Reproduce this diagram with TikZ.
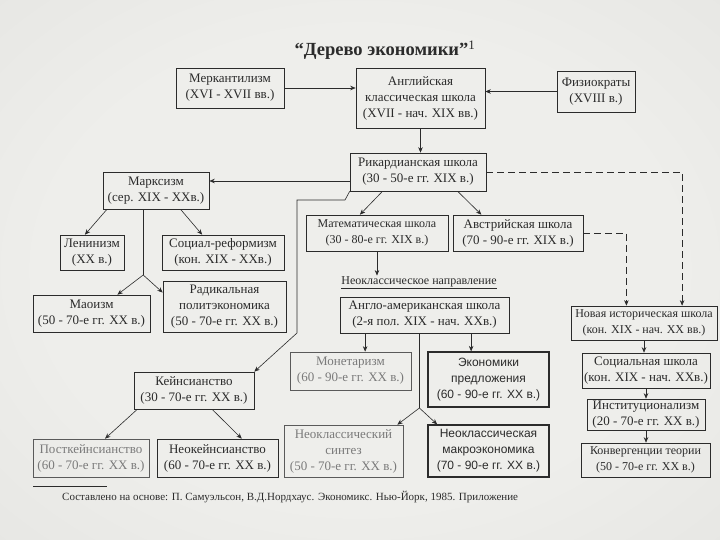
\documentclass[tikz,border=0pt]{standalone}
\usepackage{fontspec}
\setmainfont{Liberation Serif}
\setsansfont{Liberation Sans}
\usetikzlibrary{arrows.meta,calc}
\definecolor{ink}{HTML}{2B2B2B}
\definecolor{faded}{HTML}{7A7A7A}
\definecolor{pcenter}{HTML}{EEEEEB}
\definecolor{pmid}{HTML}{E0E0DD}
\definecolor{pedge}{HTML}{C6C6C3}
\pgfdeclareradialshading{paper}{\pgfpoint{0bp}{0bp}}{color(0bp)=(pcenter); color(22bp)=(pcenter); color(50bp)=(pmid); color(72bp)=(pedge)}
\newcommand{\boxfont}{\fontsize{13}{16}\selectfont}
\newcommand{\narrowboxfont}{\fontsize{12}{16}\selectfont}
\newcommand{\boldboxfont}{\sffamily\fontsize{12}{16}\selectfont}
\newcommand{\ttlfont}{\bfseries\fontsize{18.5}{20}\selectfont}
\newcommand{\footfont}{\fontsize{11}{12}\selectfont}
\begin{document}
\begin{tikzpicture}[x=1pt,y=-1pt,
  box/.style={draw=ink, line width=0.6pt, align=center, inner sep=0pt, text=ink, font=\boxfont},
  fbox/.style={box, draw=faded!60!ink, text=faded},
  bbox/.style={box, line width=1.2pt, font=\boldboxfont},
  arr/.style={draw=ink, line width=0.6pt, -{Stealth[length=5.5pt,width=4.5pt]}},
  darr/.style={arr, dash pattern=on 7pt off 4pt},
  plain/.style={draw=ink, line width=0.6pt}]
\shade[shading=paper] (0,0) rectangle (720,540);
\useasboundingbox (0,0) rectangle (720,540);

\node[font=\ttlfont, text=ink] (title) at (385,50) {“Дерево экономики”\textsuperscript{\normalfont 1}};

\node[box, minimum width=108, minimum height=40] (merc) at (230,88) {Меркантилизм\\(XVI - XVII вв.)};
\node[box, minimum width=129, minimum height=60] (engl) at (420.5,98) {Английская\\классическая школа\\(XVII - нач. XIX вв.)};
\node[box, minimum width=78, minimum height=41] (phys) at (596,91.5) {Физиократы\\(XVIII в.)};
\node[box, minimum width=136, minimum height=38] (rik) at (418,172) {Рикардианская школа\\(30 - 50-е гг. XIX в.)};
\node[box, minimum width=106, minimum height=37] (marx) at (156,190.5) {Марксизм\\(сер. XIX - XXв.)};
\node[box, minimum width=64, minimum height=35] (lenin) at (92,252.5) {Ленинизм\\(XX в.)};
\node[box, minimum width=122, minimum height=35] (socref) at (223,252.5) {Социал-реформизм\\(кон. XIX - XXв.)};
\node[box, minimum width=117, minimum height=37] (mao) at (91.5,313.5) {Маоизм\\(50 - 70-е гг. XX в.)};
\node[box, minimum width=123, minimum height=51] (radical) at (224.5,306.5) {Радикальная\\политэкономика\\(50 - 70-е гг. XX в.)};
\node[box, font=\narrowboxfont, minimum width=142, minimum height=36] (math) at (377,233) {Математическая школа\\(30 - 80-е гг. XIX в.)};
\node[box, minimum width=130, minimum height=36] (austr) at (518,233) {Австрийская школа\\(70 - 90-е гг. XIX в.)};
\node[font=\fontsize{12}{14}\selectfont, text=ink, inner sep=1pt] (nclab) at (419,283) {\underline{Неоклассическое направление}};
\node[box, minimum width=169, minimum height=36] (anglo) at (424.5,315) {Англо-американская школа\\(2-я пол. XIX - нач. XXв.)};
\node[box, font=\narrowboxfont, minimum width=146, minimum height=34] (newhist) at (644,323) {Новая историческая школа\\(кон. XIX - нач. XX вв.)};
\node[box, minimum width=128, minimum height=35] (soc) at (646,370.5) {Социальная школа\\(кон. XIX - нач. XXв.)};
\node[box, minimum width=118, minimum height=31] (inst) at (646,414.5) {Институционализм\\(20 - 70-е гг. XX в.)};
\node[box, font=\narrowboxfont, minimum width=129, minimum height=34] (conv) at (645.5,460) {Конвергенции теории\\(50 - 70-е гг. XX в.)};
\node[fbox, minimum width=121, minimum height=38] (monet) at (350.5,371) {Монетаризм\\(60 - 90-е гг. XX в.)};
\node[bbox, minimum width=121, minimum height=55] (supply) at (488.5,379.5) {Экономики\\предложения\\(60 - 90-е гг. XX в.)};
\node[box, minimum width=120, minimum height=37] (keynes) at (194,390.5) {Кейнсианство\\(30 - 70-е гг. XX в.)};
\node[fbox, minimum width=116, minimum height=38] (postk) at (91,458) {Посткейнсианство\\(60 - 70-е гг. XX в.)};
\node[box, minimum width=121, minimum height=38] (neok) at (217.5,458) {Неокейнсианство\\(60 - 70-е гг. XX в.)};
\node[fbox, minimum width=119, minimum height=52] (neosynth) at (343.5,451) {Неоклассический\\синтез\\(50 - 70-е гг. XX в.)};
\node[bbox, minimum width=121, minimum height=52] (neomacro) at (488.5,451) {Неоклассическая\\макроэкономика\\(70 - 90-е гг. XX в.)};

\draw[plain, line width=0.5pt] (33,486) -- (107,486);
\node[anchor=west, font=\footfont, text=ink, inner sep=0pt] (foot) at (62,497) {Составлено на основе: П. Самуэльсон, В.Д.Нордхаус. Экономикс. Нью-Йорк, 1985. Приложение};

% top
\draw[arr] (merc.east) -- (merc.east -| engl.west);
\draw[arr] (phys.west) -- (phys.west -| engl.east);
\draw[arr] (engl.south) -- (engl.south |- rik.north);
% ricardian
\coordinate (r1) at ([yshift=-9pt]rik.west);
\draw[arr] (r1) -- (r1 -| marx.east);
\draw[arr] ($(rik.south west)!0.24!(rik.south east)$) -- ($(math.north west)!0.38!(math.north east)$);
\draw[arr] ($(rik.south west)!0.79!(rik.south east)$) -- ($(austr.north west)!0.22!(austr.north east)$);
\coordinate (k1) at (345,200);
\coordinate (k2) at (297,200);
\coordinate (k3) at (297,333);
\draw[arr] (rik.south west) -- (k1) -- (k2) -- (k3) -- (keynes.north east);
\draw[darr] (rik.east) -| ($(newhist.north west)!0.76!(newhist.north east)$);
\draw[darr] (austr.east) -| ($(newhist.north west)!0.38!(newhist.north east)$);
% neoclassical
\draw[arr] (math.south) -- (math.south |- nclab.north);
\coordinate (a1) at ($(anglo.south west)!0.15!(anglo.south east)$);
\draw[arr] (a1) -- (a1 |- monet.north);
\coordinate (a2) at ($(anglo.south west)!0.775!(anglo.south east)$);
\draw[arr] (a2) -- (a2 |- supply.north);
\coordinate (a3) at ($(anglo.south west)!0.47!(anglo.south east)$);
\coordinate (br) at (a3 |- 0,408);
\draw[plain] (a3) -- (br);
\draw[arr] (br) -- ($(neosynth.north west)!0.95!(neosynth.north east)$);
\draw[arr] (br) -- ($(neomacro.north west)!0.08!(neomacro.north east)$);
% marxism
\draw[arr] ($(marx.south west)!0.04!(marx.south east)$) -- ($(lenin.north west)!0.39!(lenin.north east)$);
\draw[arr] ($(marx.south west)!0.73!(marx.south east)$) -- ($(socref.north west)!0.33!(socref.north east)$);
\coordinate (m0) at ($(marx.south west)!0.38!(marx.south east)$);
\coordinate (m1) at (m0 |- 0,275);
\draw[plain] (m0) -- (m1);
\draw[arr] (m1) -- ($(mao.north west)!0.72!(mao.north east)$);
\draw[arr] (m1) -- ($(radical.north west)!0.23!(radical.south west)$);
% keynes
\draw[arr] ($(keynes.south west)!0.03!(keynes.south east)$) -- ($(postk.north west)!0.62!(postk.north east)$);
\draw[arr] ($(keynes.south west)!0.65!(keynes.south east)$) -- ($(neok.north west)!0.70!(neok.north east)$);
% right column
\draw[arr] (newhist.south) -- (newhist.south |- soc.north);
\draw[arr] (soc.south) -- (soc.south |- inst.north);
\draw[arr] (inst.south) -- (inst.south |- conv.north);
\end{tikzpicture}
\end{document}
